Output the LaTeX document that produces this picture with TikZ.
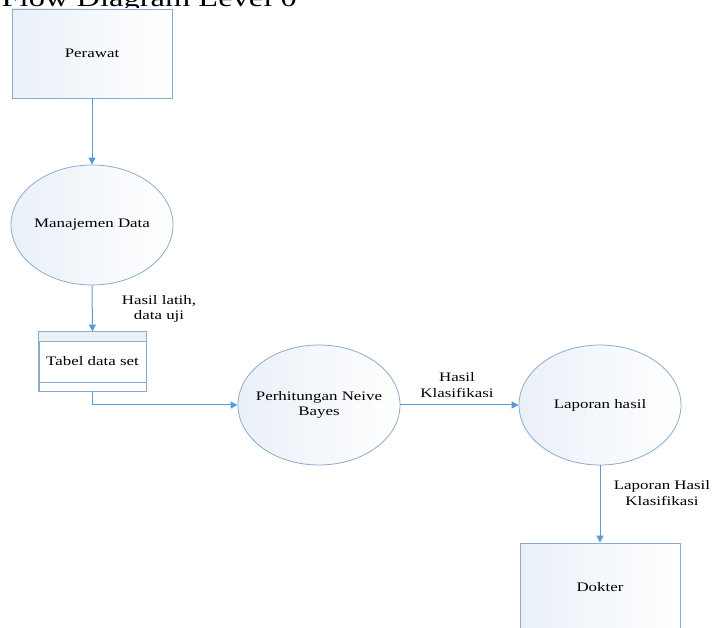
\documentclass[tikz,border=0pt]{standalone}
\usepackage{fontspec}
\setmainfont{Liberation Serif}[FakeStretch=1.3]
\usetikzlibrary{calc}
\usetikzlibrary{shapes.geometric}
\usetikzlibrary{arrows.meta}
\definecolor{garis}{RGB}{140,172,204}
\definecolor{biru}{RGB}{91,155,213}
\definecolor{isi}{RGB}{234,240,248}
\newcommand{\hurufdfd}{\fontsize{13}{15.5}\selectfont}
\newcommand{\tengah}[1]{\makebox[0pt]{#1}}
\tikzset{
  entitas/.style={draw=garis, line width=0.8pt, left color=isi, right color=white,
    minimum width=160pt, minimum height=89pt, font=\hurufdfd},
  proses/.style={ellipse, draw=garis, line width=0.8pt, left color=isi, right color=white,
    inner sep=0pt, minimum width=162pt, minimum height=120pt, align=center, font=\hurufdfd},
  simpan/.style={draw=garis, line width=0.8pt, fill=white,
    minimum width=107pt, minimum height=59pt, font=\hurufdfd},
  panah/.style={draw=biru, line width=1pt, -{Triangle[length=7pt,width=7pt]}},
  ket/.style={align=center, font=\hurufdfd, inner sep=1pt}
}
\begin{document}
\begin{tikzpicture}[x=1pt,y=-1pt]
    %BATAS
    \useasboundingbox (0,0) rectangle (713,628);
    \clip (0,0) rectangle (713,628);
    %JUDUL
    \node[anchor=base east, inner sep=0pt, font=\fontsize{25}{29}\selectfont] (judul) at (297,7) {Flow Diagram Level 0};
    %ENTITAS
    \node[entitas] (perawat) at (92,53.5) {Perawat};
    \node[entitas] (dokter) at (600,587.5) {Dokter};
    %PROSES
    \node[proses] (manajemen) at (92,225) {\tengah{Manajemen Data}};
    \node[proses] (hitung) at (319,405) {\tengah{Perhitungan Neive}\\\tengah{Bayes}};
    \node[proses] (laporan) at (600,405) {\tengah{Laporan hasil}};
    %DATA STORE
    \node[simpan] (tabel) at (92.5,361.5) {Tabel data set};
    \fill[isi] (tabel.north west) rectangle ($(tabel.north east)+(0,10)$);
    \draw[garis, line width=0.8pt] (tabel.north west) rectangle (tabel.south east);
    \draw[garis, line width=0.8pt] ($(tabel.north west)+(0,10)$) -- ($(tabel.north east)+(0,10)$);
    \draw[garis, line width=0.8pt] ($(tabel.south west)+(0,-9)$) -- ($(tabel.south east)+(0,-9)$);
    %ALIRAN
    \draw[panah] (perawat.south) -- (manajemen.north);
    \draw[panah] (manajemen.south) -- (tabel.north);
    \draw[panah] (tabel.south) |- (hitung.west);
    \draw[panah] (hitung.east) -- (laporan.west);
    \draw[panah] (laporan.south) -- (dokter.north);
    %KETERANGAN
    \node[ket] (ketlatih) at (159,309) {Hasil latih,\\data uji};
    \node[ket] (kethasil) at (457,385) {Hasil\\Klasifikasi};
    \node[ket] (ketlaporan) at (662,493) {Laporan Hasil\\Klasifikasi};
\end{tikzpicture}
\end{document}
